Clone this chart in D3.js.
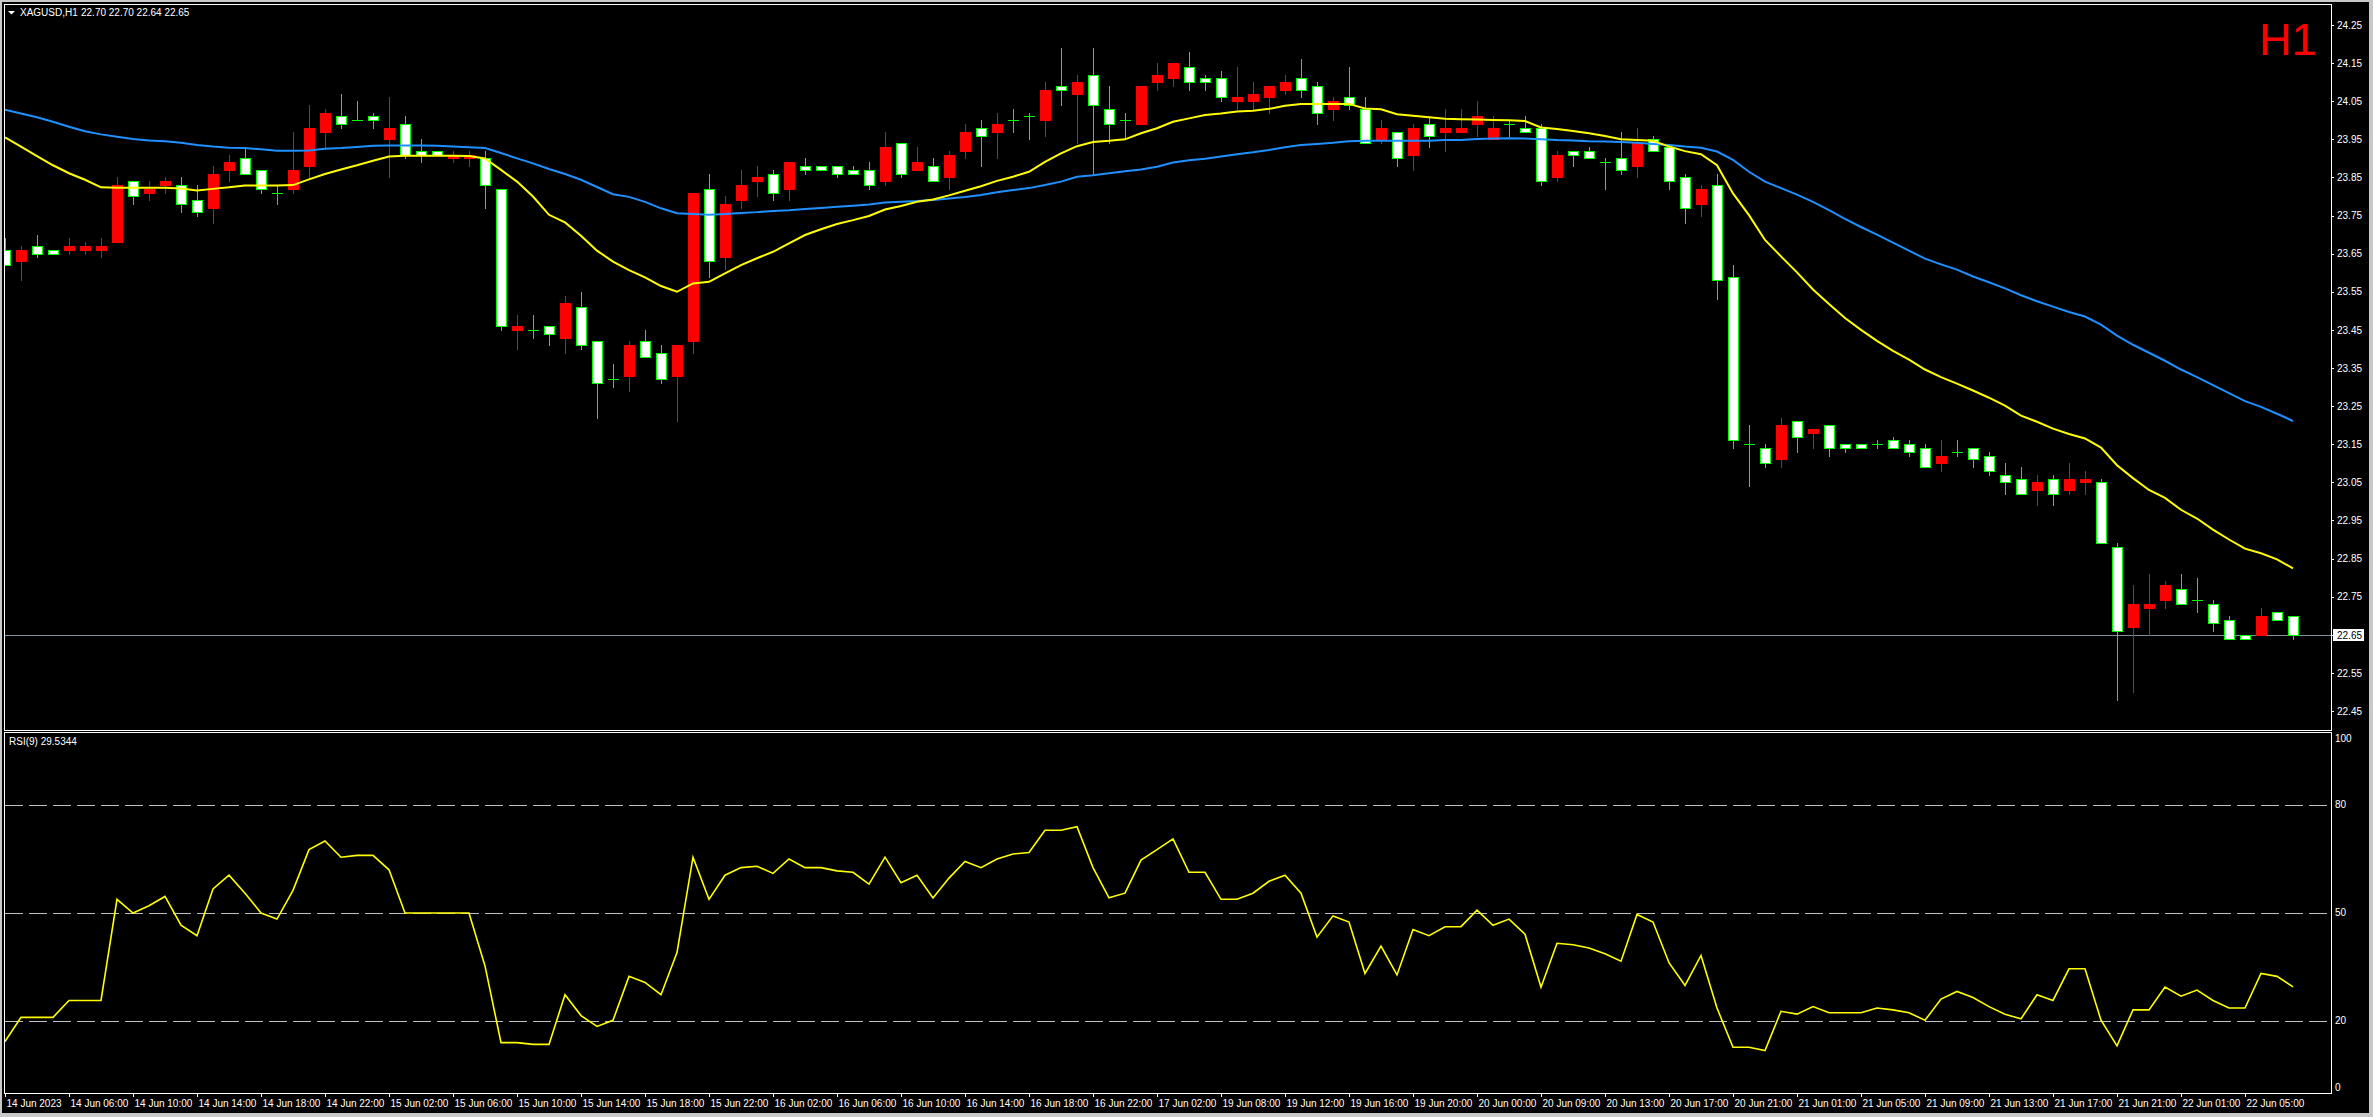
<!DOCTYPE html>
<html><head><meta charset="utf-8">
<script src="https://cdn.jsdelivr.net/npm/d3@7/dist/d3.min.js"></script>
<style>
html,body{margin:0;padding:0;background:#000;overflow:hidden}
svg{display:block}
text{font-family:"Liberation Sans",Arial,sans-serif}
</style></head><body>
<svg id="c" width="2373" height="1117"></svg>
<script>
// ---------- data ----------
const symbol = "XAGUSD,H1";
const lastOHLC = "22.70 22.70 22.64 22.65";
const rsiTitle = "RSI(9) 29.5344";
const periodLabel = "H1";
const lastPrice = 22.65;

const opens = [23.66,23.63,23.67,23.66,23.66,23.66,23.66,23.68,23.84,23.81,23.83,23.83,23.79,23.77,23.87,23.90,23.87,23.81,23.82,23.88,23.97,24.01,24.00,24.01,23.95,23.99,23.92,23.92,23.90,23.90,
23.90,23.82,23.45,23.45,23.46,23.43,23.51,23.42,23.32,23.33,23.42,23.39,23.33,23.42,23.82,23.64,23.79,23.84,23.86,23.82,23.88,23.88,23.88,23.87,23.87,23.84,23.94,23.87,23.88,23.85,
23.92,23.98,23.97,24.00,24.01,24.00,24.09,24.07,24.12,24.03,24.00,23.99,24.10,24.11,24.14,24.11,24.11,24.05,24.05,24.06,24.08,24.11,24.09,24.03,24.06,24.03,23.95,23.97,23.91,23.99,
23.97,23.97,23.99,23.95,23.99,23.98,23.98,23.85,23.92,23.92,23.89,23.90,23.88,23.95,23.93,23.85,23.78,23.83,23.59,23.15,23.14,23.11,23.21,23.18,23.20,23.15,23.15,23.15,23.16,23.15,
23.14,23.10,23.13,23.14,23.12,23.07,23.06,23.03,23.06,23.03,23.05,23.05,22.88,22.67,22.72,22.74,22.77,22.74,22.73,22.69,22.65,22.65,22.71,22.70];
const highs = [23.69,23.67,23.70,23.66,23.69,23.68,23.69,23.85,23.84,23.84,23.85,23.85,23.83,23.88,23.91,23.93,23.87,23.83,23.97,24.04,24.03,24.07,24.05,24.02,24.06,24.01,23.95,23.92,23.92,23.92,
23.92,23.82,23.49,23.49,23.46,23.54,23.55,23.42,23.36,23.42,23.45,23.41,23.41,23.81,23.86,23.80,23.87,23.88,23.87,23.89,23.90,23.88,23.88,23.88,23.89,23.97,23.94,23.93,23.90,23.92,
23.99,24.00,24.02,24.03,24.02,24.10,24.19,24.12,24.19,24.09,24.02,24.09,24.15,24.15,24.18,24.12,24.13,24.14,24.10,24.09,24.12,24.16,24.10,24.06,24.14,24.06,24.00,23.97,23.99,24.01,
24.03,24.03,24.05,24.01,24.00,24.01,23.99,23.92,23.92,23.93,23.90,23.97,23.98,23.96,23.93,23.86,23.83,23.86,23.62,23.20,23.15,23.22,23.21,23.19,23.20,23.15,23.15,23.16,23.17,23.16,
23.15,23.16,23.16,23.14,23.13,23.10,23.09,23.07,23.07,23.10,23.08,23.06,22.89,22.78,22.81,22.79,22.81,22.80,22.74,22.70,22.65,22.72,22.71,22.70];
const lows = [23.62,23.58,23.64,23.65,23.65,23.65,23.64,23.68,23.78,23.79,23.81,23.76,23.75,23.73,23.84,23.86,23.81,23.78,23.81,23.85,23.93,23.98,24.00,23.98,23.85,23.90,23.89,23.91,23.89,23.88,
23.77,23.45,23.40,23.43,23.41,23.39,23.40,23.22,23.30,23.29,23.38,23.31,23.21,23.39,23.59,23.61,23.77,23.80,23.79,23.79,23.86,23.87,23.85,23.86,23.82,23.83,23.85,23.87,23.84,23.82,
23.90,23.88,23.90,23.97,23.95,23.96,24.04,23.94,23.86,23.94,23.95,23.99,24.08,24.09,24.08,24.08,24.05,24.03,24.03,24.02,24.07,24.06,23.99,24.00,24.03,23.94,23.94,23.88,23.87,23.93,
23.92,23.97,23.96,23.95,23.96,23.97,23.83,23.84,23.88,23.90,23.82,23.86,23.85,23.92,23.82,23.73,23.75,23.53,23.14,23.04,23.09,23.09,23.13,23.14,23.12,23.13,23.14,23.14,23.14,23.12,
23.09,23.08,23.12,23.09,23.07,23.02,23.02,22.99,22.99,23.02,23.02,22.89,22.48,22.50,22.65,22.72,22.73,22.71,22.66,22.64,22.64,22.65,22.69,22.64];
const closes = [23.62,23.66,23.65,23.65,23.67,23.67,23.67,23.83,23.80,23.82,23.84,23.78,23.76,23.86,23.89,23.86,23.82,23.81,23.87,23.98,24.02,23.99,24.00,24.00,23.98,23.91,23.91,23.91,23.91,23.91,
23.83,23.46,23.46,23.45,23.44,23.52,23.41,23.31,23.32,23.41,23.38,23.32,23.41,23.81,23.63,23.78,23.83,23.85,23.81,23.89,23.87,23.87,23.86,23.86,23.83,23.93,23.86,23.89,23.84,23.91,
23.97,23.96,23.99,24.00,24.01,24.08,24.08,24.10,24.04,23.99,24.00,24.09,24.12,24.15,24.10,24.10,24.06,24.06,24.07,24.09,24.10,24.08,24.02,24.05,24.04,23.94,23.98,23.90,23.98,23.96,
23.98,23.98,24.01,23.98,23.99,23.97,23.84,23.91,23.91,23.90,23.89,23.87,23.94,23.92,23.84,23.77,23.82,23.58,23.16,23.15,23.10,23.20,23.17,23.19,23.14,23.14,23.14,23.15,23.14,23.13,
23.09,23.12,23.13,23.11,23.08,23.05,23.02,23.05,23.02,23.06,23.06,22.89,22.66,22.73,22.73,22.78,22.73,22.74,22.68,22.64,22.64,22.70,22.69,22.65];

const maFast = [23.955,23.931,23.906,23.882,23.861,23.844,23.824,23.823,23.823,23.823,23.823,23.821,23.816,23.820,23.824,23.829,23.829,23.829,23.830,23.845,23.859,23.871,23.882,23.894,23.905,23.907,23.907,23.907,23.907,23.906,
23.900,23.870,23.839,23.800,23.752,23.732,23.697,23.658,23.629,23.607,23.588,23.565,23.550,23.572,23.576,23.598,23.620,23.638,23.655,23.677,23.699,23.714,23.728,23.738,23.749,23.766,23.775,23.786,23.792,23.803,
23.815,23.827,23.841,23.852,23.865,23.891,23.913,23.932,23.943,23.946,23.950,23.966,23.979,23.996,24.005,24.014,24.018,24.023,24.025,24.030,24.038,24.043,24.043,24.043,24.043,24.031,24.029,24.016,24.012,24.008,
24.004,24.003,24.002,24.001,24.000,23.998,23.981,23.977,23.972,23.966,23.959,23.950,23.948,23.946,23.931,23.919,23.911,23.882,23.808,23.751,23.686,23.643,23.601,23.556,23.518,23.481,23.450,23.421,23.395,23.372,
23.346,23.326,23.309,23.291,23.272,23.251,23.225,23.209,23.191,23.177,23.165,23.141,23.095,23.061,23.030,23.009,22.978,22.955,22.926,22.900,22.876,22.864,22.848,22.824];
const maSlow = [24.028,24.018,24.008,23.996,23.983,23.971,23.963,23.957,23.951,23.947,23.945,23.941,23.935,23.931,23.928,23.927,23.924,23.920,23.920,23.921,23.925,23.927,23.930,23.933,23.934,23.934,23.934,23.933,23.931,23.929,
23.927,23.914,23.900,23.887,23.872,23.859,23.844,23.825,23.806,23.799,23.786,23.769,23.756,23.754,23.752,23.754,23.757,23.759,23.762,23.764,23.767,23.770,23.773,23.776,23.779,23.784,23.786,23.788,23.791,23.795,
23.799,23.804,23.811,23.817,23.822,23.830,23.839,23.852,23.856,23.861,23.866,23.871,23.878,23.889,23.895,23.899,23.905,23.911,23.916,23.922,23.929,23.935,23.938,23.941,23.945,23.946,23.946,23.946,23.946,23.946,
23.948,23.948,23.951,23.952,23.953,23.952,23.950,23.948,23.947,23.945,23.944,23.943,23.941,23.938,23.935,23.931,23.928,23.918,23.896,23.865,23.839,23.822,23.805,23.786,23.764,23.741,23.720,23.700,23.679,23.658,
23.637,23.622,23.608,23.590,23.575,23.559,23.541,23.525,23.511,23.497,23.485,23.464,23.435,23.411,23.390,23.369,23.346,23.326,23.305,23.284,23.263,23.248,23.230,23.211];

const rsiValues = [14.3,21,21,21,25.7,25.7,25.7,53.8,50,52,54.6,46.6,43.7,56.7,60.5,55.5,50,48.3,56.3,67.6,70,65.5,66,66,62,50,50,50,50,50,
35.3,14,14,13.5,13.5,27.3,21.5,18.5,20.2,32.4,30.7,27.3,39,65.5,53.8,60.5,62.6,63,61,65,62.6,62.6,61.7,61.3,58,65.5,58.4,60.5,54.2,59.7,
64.3,62.6,65,66.4,66.8,73,73,74,62.6,54.2,55.5,64.7,67.6,70.6,61.3,61.3,53.8,53.8,55.5,58.8,60.5,55.5,43.3,49.2,47.5,33.2,40.8,32.8,45.4,43.7,
46.2,46.2,50.8,46.6,48.3,44.1,29.4,41.6,41.2,40.3,38.7,36.6,49.6,47.5,36.2,29.9,38.2,23.6,12.7,12.7,11.8,22.7,21.9,24,22.3,22.3,22.3,23.6,23.1,22.3,
20.2,26.1,28.2,26.5,24,21.9,20.6,27.3,25.7,34.5,34.5,20.2,13.1,23.1,23.1,29.4,26.9,28.6,25.7,23.6,23.6,33.2,32.4,29.5];

const priceTicks = [24.25,24.15,24.05,23.95,23.85,23.75,23.65,23.55,23.45,23.35,23.25,23.15,23.05,22.95,22.85,22.75,22.65,22.55,22.45];
const rsiLevels = [80,50,20];
const rsiTicks = [100,80,50,20,0];
const timeLabels = ["14 Jun 2023","14 Jun 06:00","14 Jun 10:00","14 Jun 14:00","14 Jun 18:00","14 Jun 22:00","15 Jun 02:00","15 Jun 06:00","15 Jun 10:00","15 Jun 14:00","15 Jun 18:00","15 Jun 22:00","16 Jun 02:00","16 Jun 06:00","16 Jun 10:00","16 Jun 14:00","16 Jun 18:00","16 Jun 22:00","17 Jun 02:00","19 Jun 08:00","19 Jun 12:00","19 Jun 16:00","19 Jun 20:00","20 Jun 00:00","20 Jun 09:00","20 Jun 13:00","20 Jun 17:00","20 Jun 21:00","21 Jun 01:00","21 Jun 05:00","21 Jun 09:00","21 Jun 13:00","21 Jun 17:00","21 Jun 21:00","22 Jun 01:00","22 Jun 05:00"];
const labelEvery = 4;

// ---------- layout ----------
const W = 2373, H = 1117;
const L = 4, R = 2331;
const mainTop = 4, mainBot = 730;
const rsiTop = 733, rsiBot = 1093;
const BULL = "#ff0000", BEAR = "#00ff00", BEARFILL = "#ffffff";

const svg = d3.select("#c");
svg.append("rect").attr("width",W).attr("height",H).attr("fill","#000");
// window frame
const frame = svg.append("g").attr("fill","#c8c8c8");
frame.append("rect").attr("x",0).attr("y",0).attr("width",W).attr("height",2);
frame.append("rect").attr("x",0).attr("y",0).attr("width",2).attr("height",H);
frame.append("rect").attr("x",2369).attr("y",0).attr("width",4).attr("height",H);
frame.append("rect").attr("x",0).attr("y",1113).attr("width",W).attr("height",4);

const n = closes.length;
const x = d3.scaleLinear().domain([0, n-1]).range([5, 5 + 16*(n-1)]);
const y = d3.scaleLinear().domain([22.45, 24.25]).range([711, 25]);
const yr = d3.scaleLinear().domain([0, 100]).range([rsiBot, rsiTop]);

const defs = svg.append("defs");
defs.append("clipPath").attr("id","clipMain").append("rect")
  .attr("x",L+1).attr("y",mainTop+1).attr("width",R-L-1).attr("height",mainBot-mainTop-1);
defs.append("clipPath").attr("id","clipRsi").append("rect")
  .attr("x",L+1).attr("y",rsiTop+1).attr("width",R-L-1).attr("height",rsiBot-rsiTop-1);

// ---------- main panel ----------
const gMain = svg.append("g").attr("clip-path","url(#clipMain)");

// current price line
gMain.append("line").attr("x1",L).attr("x2",R)
  .attr("y1",Math.round(y(lastPrice))+0.5).attr("y2",Math.round(y(lastPrice))+0.5)
  .attr("stroke","#7f8fa0").attr("stroke-width",1).attr("shape-rendering","crispEdges");

const idx = d3.range(n);
const candles = gMain.append("g").attr("shape-rendering","crispEdges");
idx.forEach(i => {
  const cx = Math.round(x(i));
  const o = opens[i], c = closes[i];
  const bull = c > o, doji = c === o;
  const col = bull ? BULL : BEAR;
  const yh = Math.round(y(highs[i])), yl = Math.round(y(lows[i]));
  candles.append("line").attr("x1",cx+0.5).attr("x2",cx+0.5).attr("y1",yh).attr("y2",yl+1)
    .attr("stroke",col).attr("stroke-width",1);
  const yo = Math.round(y(o)), yc = Math.round(y(c));
  if (doji) {
    candles.append("line").attr("x1",cx-5).attr("x2",cx+6).attr("y1",yo+0.5).attr("y2",yo+0.5)
      .attr("stroke",BEAR).attr("stroke-width",1);
  } else if (bull) {
    candles.append("rect").attr("x",cx-5).attr("width",11).attr("y",yc).attr("height",Math.max(1,yo-yc+1))
      .attr("fill",BULL);
  } else {
    candles.append("rect").attr("x",cx-4.5).attr("width",10).attr("y",yo+0.5).attr("height",Math.max(1,yc-yo))
      .attr("fill",BEARFILL).attr("stroke",BEAR).attr("stroke-width",1);
  }
});

const lineP = d3.line().x((d,i)=>x(i)).y(d=>y(d));
gMain.append("path").datum(maSlow).attr("d",lineP).attr("fill","none")
  .attr("stroke","#1e90ff").attr("stroke-width",2);
gMain.append("path").datum(maFast).attr("d",lineP).attr("fill","none")
  .attr("stroke","#ffff00").attr("stroke-width",2);

// ---------- RSI panel ----------
const gRsi = svg.append("g").attr("clip-path","url(#clipRsi)");
gRsi.selectAll("line.lvl").data(rsiLevels).join("line").attr("class","lvl")
  .attr("x1",L+1).attr("x2",R).attr("y1",d=>Math.round(yr(d))+0.5).attr("y2",d=>Math.round(yr(d))+0.5)
  .attr("stroke","#c0c0c0").attr("stroke-width",1).attr("stroke-dasharray","18,6")
  .attr("shape-rendering","crispEdges");
gRsi.append("path").datum(rsiValues)
  .attr("d", d3.line().x((d,i)=>x(i)).y(d=>yr(d)))
  .attr("fill","none").attr("stroke","#ffff00").attr("stroke-width",1.6);

// ---------- frames ----------
const fr = svg.append("g").attr("fill","none").attr("stroke","#ffffff").attr("stroke-width",1)
  .attr("shape-rendering","crispEdges");
fr.append("rect").attr("x",L+0.5).attr("y",mainTop+0.5).attr("width",R-L).attr("height",mainBot-mainTop);
fr.append("rect").attr("x",L+0.5).attr("y",rsiTop-1+0.5).attr("width",R-L).attr("height",rsiBot-rsiTop+1);

// ---------- axes ----------
const fontSize = 10;
const axP = svg.append("g").attr("transform",`translate(${R},0)`)
  .call(d3.axisRight(y).tickValues(priceTicks).tickSize(3).tickPadding(3).tickFormat(d3.format(".2f")));
axP.select(".domain").remove();
axP.selectAll(".tick line").attr("stroke","#ffffff").attr("shape-rendering","crispEdges");
axP.selectAll(".tick text").attr("fill","#ffffff").attr("font-size",fontSize)
  .attr("font-family","Liberation Sans, Arial, sans-serif");
axP.attr("font-family",null).attr("font-size",null);

// last price box
const lpY = Math.round(y(lastPrice));
svg.append("rect").attr("x",R+2).attr("y",lpY-6).attr("width",31).attr("height",12).attr("fill","#ffffff");
svg.append("text").attr("x",R+6).attr("y",lpY+3.5).attr("font-size",fontSize).attr("fill","#000")
  .text(d3.format(".2f")(lastPrice));

const axR = svg.append("g").attr("transform",`translate(${R},0)`)
  .call(d3.axisRight(yr).tickValues(rsiTicks).tickSize(0).tickPadding(4).tickFormat(d3.format("d")));
axR.select(".domain").remove();
axR.selectAll(".tick").attr("transform", d => {
  const yy = Math.min(Math.max(yr(d), rsiTop+6), rsiBot-5);
  return `translate(0,${yy})`;
});
axR.selectAll(".tick text").attr("fill","#ffffff").attr("font-size",fontSize)
  .attr("font-family","Liberation Sans, Arial, sans-serif");
axR.attr("font-family",null).attr("font-size",null);

const tickIdx = timeLabels.map((d,k)=>k*labelEvery);
const axT = svg.append("g").attr("transform",`translate(0,${rsiBot})`)
  .call(d3.axisBottom(x).tickValues(tickIdx).tickSize(4).tickPadding(2)
    .tickFormat(d => timeLabels[d/labelEvery]));
axT.select(".domain").remove();
axT.selectAll(".tick line").attr("stroke","#ffffff").attr("shape-rendering","crispEdges");
axT.selectAll(".tick text").attr("fill","#ffffff").attr("font-size",fontSize)
  .attr("text-anchor","start").attr("x",1).attr("y",14).attr("dy",0)
  .attr("font-family","Liberation Sans, Arial, sans-serif");
axT.attr("font-family",null).attr("font-size",null);

// ---------- titles ----------
svg.append("path").attr("d","M8,11 L15,11 L11.5,14.5 Z").attr("fill","#ffffff");
svg.append("text").attr("x",20).attr("y",16).attr("font-size",fontSize).attr("fill","#ffffff").text(symbol);
svg.append("text").attr("x",81).attr("y",16).attr("font-size",fontSize).attr("fill","#ffffff").text(lastOHLC);
svg.append("text").attr("x",9).attr("y",745).attr("font-size",fontSize).attr("fill","#ffffff").text(rsiTitle);
svg.append("text").attr("x",2259).attr("y",55).attr("font-size",45).attr("fill","#ff0000").text(periodLabel);
</script>
</body></html>
